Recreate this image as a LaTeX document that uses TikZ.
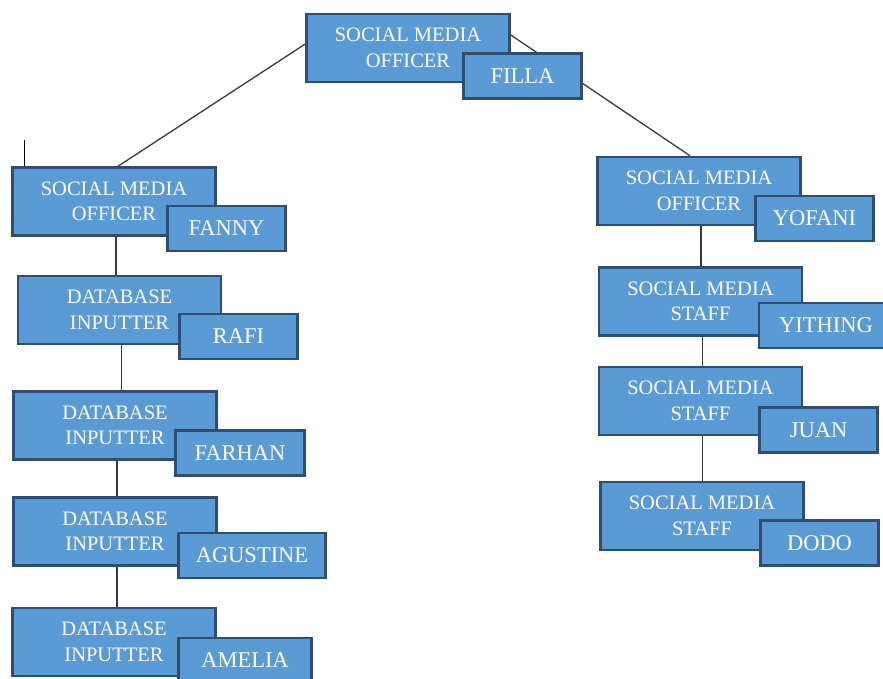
\documentclass[tikz,border=0pt]{standalone}
\usepackage{fontspec}
\setmainfont{Liberation Serif}
\usepackage{xcolor}
\usepackage{tikz}
\usetikzlibrary{calc,positioning}
\definecolor{boxc}{HTML}{5B9BD5}
\definecolor{edgec}{HTML}{2F4D70}
\definecolor{linec}{HTML}{3A3A3A}
\tikzset{
  role/.style={draw=edgec,line width=2.5pt,fill=boxc,text=white,align=center,minimum width=203pt,minimum height=68pt,inner sep=0pt,font=\fontsize{20.5}{25.5}\selectfont},
  nm/.style={draw=edgec,line width=2.5pt,fill=boxc,text=white,minimum width=118pt,minimum height=45pt,inner sep=0pt,font=\fontsize{22.5}{27}\selectfont},
  ln/.style={linec,line width=1.3pt}
}
\begin{document}
\begin{tikzpicture}[x=1pt,y=-1pt]
\useasboundingbox (0,0) rectangle (883,679);
% job boxes
\node[role] (smo) at (408,48) {SOCIAL MEDIA\\OFFICER};
\node[role] (L0) at (114,201.5) {SOCIAL MEDIA\\OFFICER};
\node[role] (L1) at (119.5,310) {DATABASE\\INPUTTER};
\node[role] (L2) at (115,425.5) {DATABASE\\INPUTTER};
\node[role] (L3) at (115,531.5) {DATABASE\\INPUTTER};
\node[role] (L4) at (114,642) {DATABASE\\INPUTTER};
\node[role] (R0) at (699,191) {SOCIAL MEDIA\\OFFICER};
\node[role] (R1) at (700.5,301.5) {SOCIAL MEDIA\\STAFF};
\node[role] (R2) at (700.5,401) {SOCIAL MEDIA\\STAFF};
\node[role] (R3) at (702,516) {SOCIAL MEDIA\\STAFF};
% links
\draw[ln] ([yshift=4pt]smo.west) -- ([xshift=4pt]L0.north);
\draw[ln] ([yshift=13pt]smo.east) -- ([xshift=-9pt]R0.north);
\foreach \a/\b in {L0/L1,L1/L2,L2/L3,L3/L4}
  \draw[ln] ([xshift=2pt]\a.south) -- ([xshift=2pt]\a.south |- \b.north);
\foreach \a/\b in {R0/R1,R1/R2,R2/R3}
  \draw[ln] ([xshift=2pt]\a.south) -- ([xshift=2pt]\a.south |- \b.north);
\coordinate (tick) at (24,140);
\draw[black,line width=1pt] (tick) -- (tick |- L0.north);
% name boxes
\node[nm] (filla) at (522.5,76) {FILLA};
\node[nm] (fanny) at (226.5,228.5) {FANNY};
\node[nm] (rafi) at (238.5,336.5) {RAFI};
\node[nm,minimum width=129pt] (farhan) at (240,453) {FARHAN};
\node[nm,minimum width=147pt] (agustine) at (252,555.5) {AGUSTINE};
\node[nm,minimum width=133pt] (amelia) at (245,660.5) {AMELIA};
\node[nm] (yofani) at (814.5,218.5) {YOFANI};
\node[nm,minimum width=134pt] (yithing) at (826,325.5) {YITHING};
\node[nm] (juan) at (818.5,430) {JUAN};
\node[nm] (dodo) at (819.5,543) {DODO};
\end{tikzpicture}
\end{document}
